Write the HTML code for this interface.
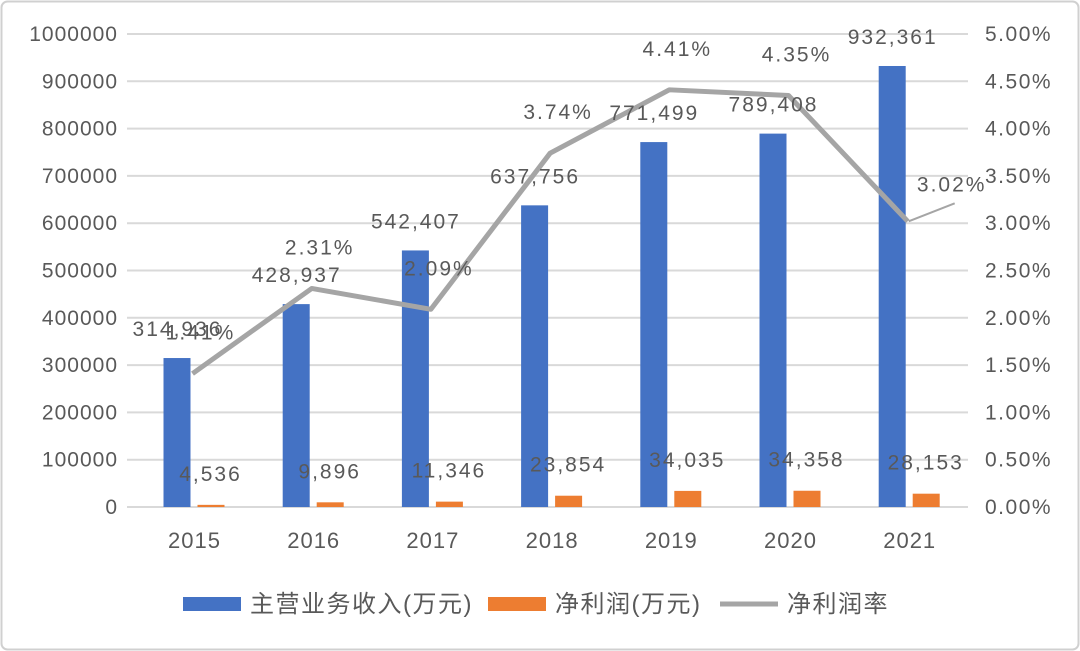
<!DOCTYPE html>
<html><head><meta charset="utf-8"><style>
body{margin:0;background:#fff;}
svg{display:block;font-family:"Liberation Sans","Noto Sans CJK SC",sans-serif;}
</style></head><body>
<svg id="chart" width="1080" height="651" viewBox="0 0 1080 651">
<rect x="1.5" y="1.5" width="1077" height="648" rx="6" fill="#fff" stroke="#d0d0d0" stroke-width="2"/>
<g id="grid"></g><g id="bars"></g><g id="line"></g><g id="labels"></g><g id="axes"></g>
<g font-size="24" fill="#595959" letter-spacing="1.5">
<rect x="183" y="597" width="58" height="14" fill="#4472c4"/>
<text x="250" y="612">主营业务收入(万元)</text>
<rect x="488" y="597" width="58" height="14" fill="#ed7d31"/>
<text x="555" y="612">净利润(万元)</text>
<line x1="720" y1="604" x2="778" y2="604" stroke="#a5a5a5" stroke-width="5"/>
<text x="787" y="612">净利润率</text>
</g>
</svg>
<script>
const years=["2015","2016","2017","2018","2019","2020","2021"];
const revenue=[314936,428937,542407,637756,771499,789408,932361];
const profit=[4536,9896,11346,23854,34035,34358,28153];
const margin=[1.41,2.31,2.09,3.74,4.41,4.35,3.02];
const leftTicks=[0,100000,200000,300000,400000,500000,600000,700000,800000,900000,1000000];
const rightTicks=["0.00%","0.50%","1.00%","1.50%","2.00%","2.50%","3.00%","3.50%","4.00%","4.50%","5.00%"];
const NS="http://www.w3.org/2000/svg";
const y0=507,y1=34;
function yL(v){return y0-(v/1000000)*(y0-y1);}
function yR(p){return y0-(p/5)*(y0-y1);}
function xC(i){return 194.5+i*119.2;}
function mk(tag,attrs,parent,txt){const e=document.createElementNS(NS,tag);for(const k in attrs)e.setAttribute(k,attrs[k]);if(txt!==undefined)e.textContent=txt;document.getElementById(parent).appendChild(e);return e;}
const fmt=n=>n.toLocaleString("en-US");
leftTicks.forEach((t,i)=>{
  const g=mk("line",{x1:127,x2:968,y1:yL(t),y2:yL(t),stroke:"#d9d9d9","stroke-width":2},"grid");
  
  
  const l=mk("text",{x:118,y:yL(t)+7,"text-anchor":"end","font-size":21,fill:"#595959","letter-spacing":1},"axes",String(t));
  
  
  const r=mk("text",{x:985,y:yL(t)+7,"font-size":21,fill:"#595959","letter-spacing":1.5},"axes",rightTicks[i]);
  
  
});
years.forEach((yr,i)=>{
  const c=xC(i);
  const b=mk("rect",{x:c-31,y:yL(revenue[i]),width:27,height:y0-yL(revenue[i]),fill:"#4472c4"},"bars");
  
  
  const o=mk("rect",{x:c+3,y:yL(profit[i]),width:27,height:y0-yL(profit[i]),fill:"#ed7d31"},"bars");
  
  
  const xl=mk("text",{x:c,y:548,"text-anchor":"middle","font-size":22,fill:"#595959","letter-spacing":1},"axes",yr);
  
  
  const rl=mk("text",{x:c-17,y:yL(revenue[i])-22,"text-anchor":"middle","font-size":21,fill:"#595959","letter-spacing":2},"labels",fmt(revenue[i]));
  
  
  const pl=mk("text",{x:c+16,y:yL(profit[i])-24,"text-anchor":"middle","font-size":21,fill:"#595959","letter-spacing":2},"labels",fmt(profit[i]));
  
  
  const last=i===years.length-1;
  const ml=mk("text",{x:last?c+42:c+6,y:last?yR(margin[i])-30:yR(margin[i])-34,"text-anchor":"middle","font-size":21,fill:"#595959","letter-spacing":2},"labels",margin[i].toFixed(2)+"%");
  
  
});
const pts=margin.map((m,i)=>(xC(i)-2)+","+yR(m)).join(" ");
const pl=mk("polyline",{points:pts,fill:"none",stroke:"#a5a5a5","stroke-width":5,"stroke-linejoin":"round"},"line");


const li=years.length-1;
const ld=mk("line",{x1:xC(li)-1,y1:yR(margin[li]),x2:xC(li)+45,y2:yR(margin[li])-18,stroke:"#a5a5a5","stroke-width":2},"line");


</script>
</body></html>
